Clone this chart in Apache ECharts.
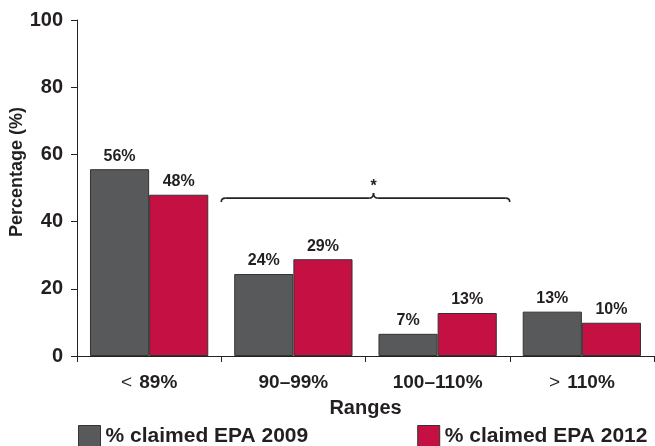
<!DOCTYPE html>
<html>
<head>
<meta charset="utf-8">
<script src="https://cdn.jsdelivr.net/npm/echarts@6/dist/echarts.min.js"></script>
<style>
html,body{margin:0;padding:0;background:#fff;}
#chart{width:655px;height:446px;}
</style>
</head>
<body>
<div id="chart"></div>
<script>
var categories = ['< 89%', '90–99%', '100–110%', '> 110%'];
var seriesNames = ['% claimed EPA 2009', '% claimed EPA 2012'];
var values2009 = [55.6, 24.4, 6.6, 13.2];
var values2012 = [48.0, 28.8, 12.8, 9.9];
var yTicks = [0, 20, 40, 60, 80, 100];
var braceValue = 47;

var FONT = '"Liberation Sans", Arial, Helvetica, sans-serif';
var TXT = '#231f20';
var GRAY = '#58595b';
var RED = '#c41042';

var chart = echarts.init(document.getElementById('chart'), null, {renderer: 'canvas'});

function catFormatter(v) {
  var c = v.charAt(0);
  if (c === '<' || c === '>') {
    return '{op|' + c + '}{b|' + v.slice(1) + '}';
  }
  return '{b|' + v + '}';
}

var option = {
  animation: false,
  backgroundColor: '#fff',
  textStyle: {fontFamily: FONT},
  grid: {left: 77, right: 1, top: 20, bottom: 90, containLabel: false, outerBoundsMode: 'none'},
  legend: {
    data: seriesNames,
    left: 78,
    top: 425,
    padding: 0,
    itemWidth: 22,
    itemHeight: 22,
    itemGap: 109,
    icon: 'rect',
    textStyle: {fontFamily: FONT, fontWeight: 'bold', fontSize: 21, color: TXT},
    itemStyle: {borderColor: '#333', borderWidth: 1}
  },
  xAxis: {
    type: 'category',
    data: categories,
    name: 'Ranges',
    nameLocation: 'middle',
    nameGap: 42,
    nameMoveOverlap: false,
    nameTextStyle: {fontFamily: FONT, fontWeight: 'bold', fontSize: 20, color: TXT},
    axisLine: {lineStyle: {color: '#222', width: 1}},
    axisTick: {show: true, length: 6, lineStyle: {color: '#222'}},
    axisLabel: {
      margin: 17,
      formatter: catFormatter,
      rich: {
        b: {fontFamily: FONT, fontWeight: 'bold', fontSize: 19, color: TXT},
        op: {fontFamily: FONT, fontWeight: 'normal', fontSize: 19, color: TXT, padding: [0, 2, 0, 0]}
      }
    }
  },
  yAxis: {
    type: 'value',
    min: yTicks[0],
    max: yTicks[yTicks.length - 1],
    interval: yTicks[1] - yTicks[0],
    name: 'Percentage (%)',
    nameLocation: 'middle',
    nameGap: 51,
    nameMoveOverlap: false,
    nameTextStyle: {fontFamily: FONT, fontWeight: 'bold', fontSize: 18, color: TXT, padding: [0, 0, 0, 32]},
    axisLine: {show: true, lineStyle: {color: '#222', width: 1}},
    axisTick: {show: true, length: 6, lineStyle: {color: '#222'}},
    splitLine: {show: false},
    axisLabel: {margin: 14, fontFamily: FONT, fontWeight: 'bold', fontSize: 20, color: TXT}
  },
  series: [
    {
      name: seriesNames[0],
      type: 'bar',
      data: values2009,
      barGap: '0%',
      barCategoryGap: '18%',
      itemStyle: {color: GRAY, borderColor: '#333', borderWidth: 1},
      label: {show: true, position: 'top', distance: 5, formatter: function(p){return Math.round(p.value) + '%';},
        fontFamily: FONT, fontWeight: 'bold', fontSize: 16, color: TXT}
    },
    {
      name: seriesNames[1],
      type: 'bar',
      data: values2012,
      barGap: '0%',
      barCategoryGap: '18%',
      itemStyle: {color: RED, borderColor: '#333', borderWidth: 1},
      label: {show: true, position: 'top', distance: 5, formatter: function(p){return Math.round(p.value) + '%';},
        fontFamily: FONT, fontWeight: 'bold', fontSize: 16, color: TXT}
    }
  ]
};
chart.setOption(option);

// significance brace spanning categories 2 and 3
var c1 = chart.convertToPixel({xAxisIndex: 0}, 1);
var c2 = chart.convertToPixel({xAxisIndex: 0}, 2);
var band = c2 - c1;
var x0 = c1 - band / 2;
var x1 = c2 + band / 2;
var y = chart.convertToPixel({yAxisIndex: 0}, braceValue);
var xm = (c1 + c2) / 2 + 8;
var r = 4;
var st = {stroke: '#222', lineWidth: 1.6, fill: null};
chart.setOption({
  graphic: [
    {type: 'bezierCurve', shape: {x1: x0, y1: y + r, x2: x0 + r, y2: y, cpx1: x0, cpy1: y}, style: st},
    {type: 'line', shape: {x1: x0 + r, y1: y, x2: xm - r, y2: y}, style: st},
    {type: 'bezierCurve', shape: {x1: xm - r, y1: y, x2: xm, y2: y - r - 1, cpx1: xm, cpy1: y}, style: st},
    {type: 'bezierCurve', shape: {x1: xm, y1: y - r - 1, x2: xm + r, y2: y, cpx1: xm, cpy1: y}, style: st},
    {type: 'line', shape: {x1: xm + r, y1: y, x2: x1 - r, y2: y}, style: st},
    {type: 'bezierCurve', shape: {x1: x1 - r, y1: y, x2: x1, y2: y + r, cpx1: x1, cpy1: y}, style: st},
    {type: 'text', x: xm, y: y - 11, style: {text: '*', font: 'bold 16px ' + FONT, fill: TXT, align: 'center', verticalAlign: 'middle'}}
  ]
});
</script>
</body>
</html>
